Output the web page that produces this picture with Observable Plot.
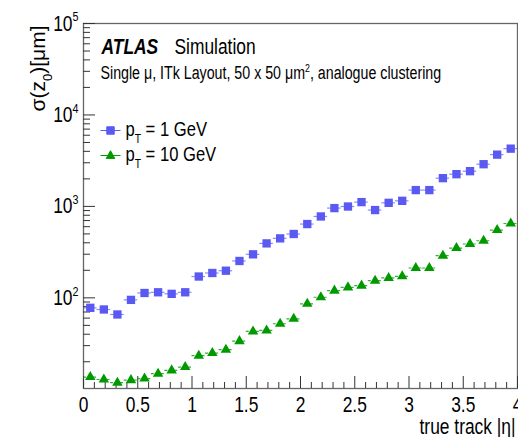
<!DOCTYPE html>
<html><head><meta charset="utf-8">
<script src="https://cdn.jsdelivr.net/npm/d3@7"></script>
<script src="https://cdn.jsdelivr.net/npm/@observablehq/plot@0.6"></script>
<style>
body{margin:0;background:#fff;}
#chart{width:518px;height:437px;}
</style></head><body><div id="chart"></div>
<script>
const etaCenters = [0.0625,0.1875,0.3125,0.4375,0.5625,0.6875,0.8125,0.9375,1.0625,1.1875,1.3125,1.4375,1.5625,1.6875,1.8125,1.9375,2.0625,2.1875,2.3125,2.4375,2.5625,2.6875,2.8125,2.9375,3.0625,3.1875,3.3125,3.4375,3.5625,3.6875,3.8125,3.9375];
const binHalfWidth = 0.0625;
const sigmaPt1 = [77.8,74.6,65.8,95,113,115,110.6,115,171,187,198,253,299,394,447,499,641,776,958,997,1114,912,1094,1151,1507,1507,2037,2250,2427,2893,3681,4280];
const sigmaPt10 = [13.6,12.8,11.8,12.6,13.1,14.8,16.1,17.5,23.3,24.9,27.1,33.6,42.9,44.0,52.1,59,86,101.5,120,130,136,154,165,172,212,212,289,350,388,421,551,650];
const seriesNames = ["p_{T} = 1 GeV", "p_{T} = 10 GeV"];
const seriesColors = ["#5a5af2", "#009a00"];
const xMajorTicks = [0,0.5,1,1.5,2,2.5,3,3.5,4];
const xTickLabels = ["0","0.5","1","1.5","2","2.5","3","3.5","4"];
const xMinorTicks = [0.1,0.2,0.3,0.4,0.6,0.7,0.8,0.9,1.1,1.2,1.3,1.4,1.6,1.7,1.8,1.9,2.1,2.2,2.3,2.4,2.6,2.7,2.8,2.9,3.1,3.2,3.3,3.4,3.6,3.7,3.8,3.9];
const yMajorTicks = [100,1000,10000,100000];
const yTickLabels = ["10^{2}","10^{3}","10^{4}","10^{5}"];
const yMinorTicks = [20,30,40,50,60,70,80,90,200,300,400,500,600,700,800,900,2000,3000,4000,5000,6000,7000,8000,9000,20000,30000,40000,50000,60000,70000,80000,90000];
const yDomain = [10.2, 100000];
const xDomain = [0, 4];
const titleMain = "ATLAS";
const titleSub = "Simulation";
const subtitle = "Single μ, ITk Layout, 50 x 50 μm^{2}, analogue clustering";
const yLabel = "σ(z_{0})[μm]";
const xLabel = "true track |η|";

const rows = (vals) => etaCenters.map((x, i) => ({x, v: vals[i]}));
const d1 = rows(sigmaPt1), d10 = rows(sigmaPt10);

const font = '"Liberation Sans",Arial,sans-serif';

const legendSquare = {draw(c, size) { const s = Math.sqrt(size)/2; c.moveTo(-10,0); c.lineTo(10,0); c.moveTo(-s,-s); c.lineTo(s,-s); c.lineTo(s,s); c.lineTo(-s,s); c.closePath(); }};
const legendTri = {draw(c, size) { const h = Math.sqrt(size)*0.95; c.moveTo(-10,0); c.lineTo(10,0); c.moveTo(0,-h*0.62); c.lineTo(h*0.55,h*0.38); c.lineTo(-h*0.55,h*0.38); c.closePath(); }};

const chart = Plot.plot({
  width: 518, height: 437,
  marginLeft: 83, marginRight: 1, marginTop: 23, marginBottom: 49,
  x: {domain: xDomain},
  y: {type: "log", domain: yDomain},
  style: {fontFamily: font, background: "white", overflow: "visible", color: "black"},
  marks: [
    Plot.frame({stroke: "#666", strokeWidth: 1.3}),
    Plot.axisX({ticks: xMajorTicks, tickSize: -12, tickFormat: () => "", label: null, stroke: "#333"}),
    Plot.axisX({ticks: xMinorTicks, tickSize: -6, tickFormat: () => "", label: null, stroke: "#333"}),
    Plot.axisX({ticks: xMajorTicks, tickSize: 0, tickPadding: 8, tickFormat: d => xTickLabels[xMajorTicks.indexOf(d)], label: null, fontSize: 22}),
    Plot.axisY({ticks: yMajorTicks, tickSize: -12, tickFormat: () => "", label: null, stroke: "#333"}),
    Plot.axisY({ticks: yMinorTicks, tickSize: -7, tickFormat: () => "", label: null, stroke: "#333"}),
    Plot.axisY({ticks: yMajorTicks, tickSize: 0, tickPadding: 5, tickFormat: d => yTickLabels[yMajorTicks.indexOf(d)], label: null, fontSize: 22}),
    Plot.ruleY(d1, {y: "v", x1: d => d.x - binHalfWidth, x2: d => d.x + binHalfWidth, stroke: seriesColors[0], strokeOpacity: 0.7, strokeWidth: 1.2}),
    Plot.ruleY(d10, {y: "v", x1: d => d.x - binHalfWidth, x2: d => d.x + binHalfWidth, stroke: seriesColors[1], strokeOpacity: 0.8, strokeWidth: 1.2, strokeDasharray: "3,2"}),
    Plot.dot(d1, {x: "x", y: "v", symbol: "square", r: 4.7, fill: seriesColors[0]}),
    Plot.dot(d10, {x: "x", y: "v", symbol: "triangle", r: 3.9, fill: seriesColors[1]}),
    Plot.dot([0], {frameAnchor: "top-left", dx: 27, dy: 107, symbol: legendSquare, r: 4.2, fill: seriesColors[0], stroke: seriesColors[0], strokeWidth: 1}),
    Plot.dot([0], {frameAnchor: "top-left", dx: 27, dy: 132, symbol: legendTri, r: 4.6, fill: seriesColors[1], stroke: seriesColors[1], strokeWidth: 1}),
    Plot.text([seriesNames[0]], {frameAnchor: "top-left", dx: 42, dy: 106, text: d => d, textAnchor: "start", lineAnchor: "middle", fontSize: 21}),
    Plot.text([seriesNames[1]], {frameAnchor: "top-left", dx: 42, dy: 131, text: d => d, textAnchor: "start", lineAnchor: "middle", fontSize: 21}),
    Plot.text([titleMain], {frameAnchor: "top-left", dx: 18, dy: 23, text: d => d, textAnchor: "start", lineAnchor: "middle", fontSize: 22, fontWeight: "bold", fontStyle: "italic"}),
    Plot.text([titleSub], {frameAnchor: "top-left", dx: 91, dy: 23, text: d => d, textAnchor: "start", lineAnchor: "middle", fontSize: 22}),
    Plot.text([subtitle], {frameAnchor: "top-left", dx: 17, dy: 50, text: d => d, textAnchor: "start", lineAnchor: "middle", fontSize: 18}),
    Plot.text([yLabel], {frameAnchor: "top-left", dx: -45, dy: 2, rotate: -90, text: d => d, textAnchor: "end", lineAnchor: "middle", fontSize: 21}),
    Plot.text([xLabel], {frameAnchor: "bottom-right", dx: -2, dy: 38, text: d => d, textAnchor: "end", lineAnchor: "middle", fontSize: 22})
  ]
});

function rich(el) {
  const s = el.textContent;
  if (!/[_^]\{/.test(s)) return;
  const holder = el.closest("[font-size]");
  const fs = parseFloat(el.getAttribute("font-size") || (holder && holder.getAttribute("font-size")) || 16);
  while (el.firstChild) el.removeChild(el.firstChild);
  const parts = s.match(/[_^]\{[^}]*\}|[^_^]+/g);
  let cur = 0;
  for (const p of parts) {
    const t = document.createElementNS("http://www.w3.org/2000/svg", "tspan");
    let target = 0;
    if (p[0] === "^") { target = -0.42 * fs; t.setAttribute("font-size", 0.62 * fs); t.textContent = p.slice(2, -1); }
    else if (p[0] === "_") { target = 0.32 * fs; t.setAttribute("font-size", 0.62 * fs); t.textContent = p.slice(2, -1); }
    else t.textContent = p;
    if (target !== cur) { t.setAttribute("dy", target - cur); cur = target; }
    el.appendChild(t);
  }
}
chart.querySelectorAll("text").forEach(rich);
document.getElementById("chart").appendChild(chart);
// narrow the (horizontal) texts to match the condensed look of the reference
const squeeze = 0.79;
chart.querySelectorAll("text").forEach(el => {
  if (!el.textContent) return;
  const tr = el.getAttribute("transform") || "";
  if (/rotate/.test(tr)) return;
  const L = el.getComputedTextLength();
  if (L > 0) { el.setAttribute("textLength", L * squeeze); el.setAttribute("lengthAdjust", "spacingAndGlyphs"); }
});
</script>
</body></html>
